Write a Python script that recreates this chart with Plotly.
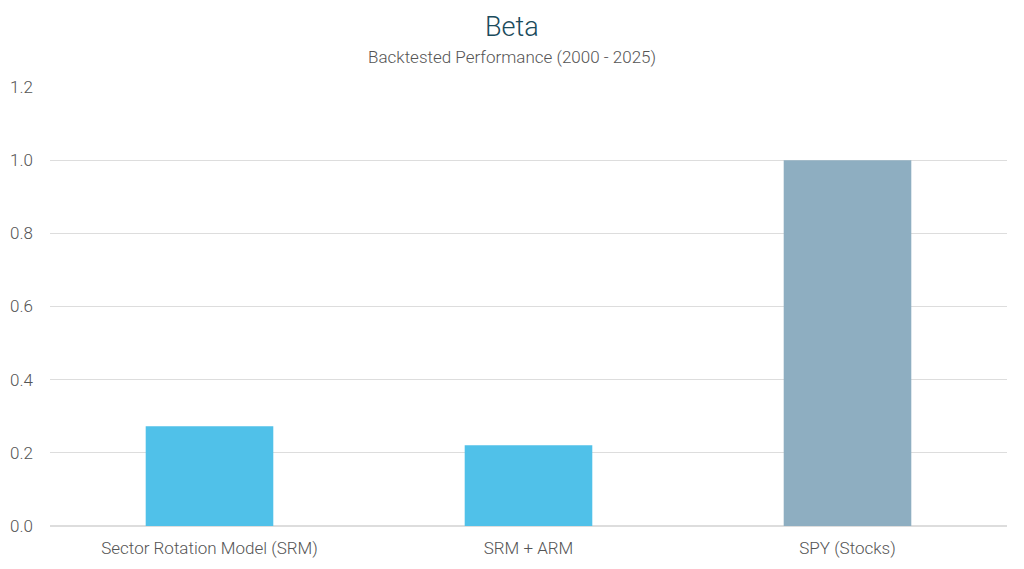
import plotly.graph_objects as go

categories = ["Sector Rotation Model (SRM)", "SRM + ARM", "SPY (Stocks)"]
beta_values = [0.273, 0.221, 1.0]
bar_colors = ["#50C1E9", "#50C1E9", "#8EAEC1"]
y_ticks = [0.0, 0.2, 0.4, 0.6, 0.8, 1.0, 1.2]

FONT = "Roboto Light, Roboto, sans-serif"

fig = go.Figure(data=[go.Bar(
    x=categories,
    y=beta_values,
    marker_color=bar_colors,
    marker_line_width=0,
    width=0.4,
)])

# page body has an 8px default margin, so size the figure to fill the rest
fig.update_layout(
    width=1016,
    height=561,
    showlegend=False,
    paper_bgcolor="white",
    plot_bgcolor="white",
    font=dict(family=FONT, color="#555555"),
    margin=dict(l=42, r=17, t=79, b=43, autoexpand=False),
    xaxis=dict(
        tickfont_size=17,
        showgrid=False,
        ticks="",
        showline=False,
        automargin=False,
        ticklabelstandoff=10,
    ),
    yaxis=dict(
        range=[0, 1.2],
        tickvals=y_ticks,
        tickformat=".1f",
        tickfont_size=17,
        gridcolor="#DDDDDD",
        zeroline=True,
        zerolinecolor="#DDDDDD",
        ticklen=0,
        automargin=False,
        ticklabelstandoff=16,
    ),
    # titles centred on the whole page, not the plot area
    annotations=[
        dict(text="Beta", x=0.483, y=1.137, xref="paper", yref="paper",
             xanchor="center", yanchor="middle", showarrow=False,
             font=dict(size=27, color="#1B4B5C", family=FONT)),
        dict(text="Backtested Performance (2000 - 2025)", x=0.483, y=1.068,
             xref="paper", yref="paper", xanchor="center", yanchor="middle",
             showarrow=False, font=dict(size=17, color="#555555", family=FONT)),
    ],
)

fig.write_html("out.html")
